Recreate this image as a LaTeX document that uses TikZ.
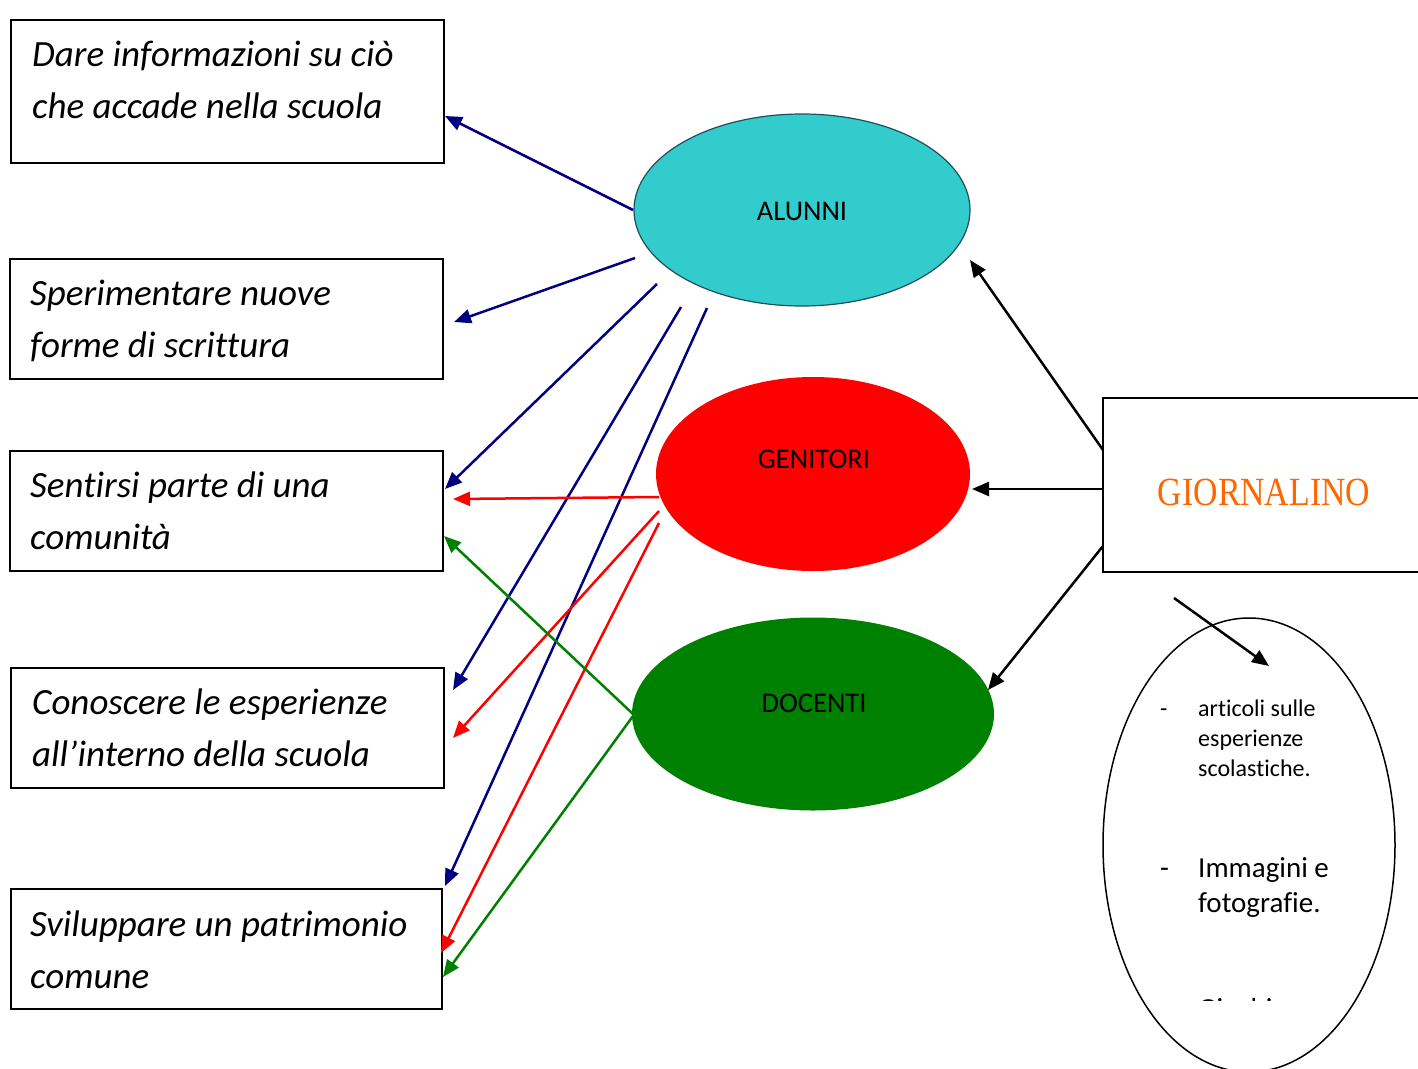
\documentclass[tikz,border=0pt]{standalone}
\usepackage{fontspec}
\setmainfont{Carlito}[Ligatures=NoCommon]
\newfontfamily\titlefont{Liberation Serif}
\usetikzlibrary{arrows.meta,shapes.geometric}
\definecolor{navyc}{HTML}{000080}
\definecolor{cyanc}{HTML}{33CCCC}
\definecolor{tealb}{HTML}{1F4E5F}
\definecolor{greenc}{HTML}{008000}
\definecolor{orangec}{HTML}{FF6600}
\tikzset{
  goalbox/.style={draw=black, line width=1.8pt, rectangle, anchor=north west, inner sep=0pt},
  goaltext/.style={anchor=base west, inner sep=0pt, font=\fontsize{37}{52}\selectfont\itshape},
  lbl/.style={font=\fontsize{28.5}{32}\selectfont},
  smalltext/.style={anchor=base west, inner sep=0pt, font=\fontsize{24}{30}\selectfont},
  midtext/.style={anchor=base west, inner sep=0pt, font=\fontsize{29}{35}\selectfont},
  conn/.style={line width=2.5pt, -{Triangle[length=17pt,width=14pt]}},
  blueconn/.style={conn, navyc},
  redconn/.style={conn, red},
  greenconn/.style={conn, greenc},
  blackconn/.style={conn, black},
}
\begin{document}
\begin{tikzpicture}[x=1pt,y=-1pt]
\useasboundingbox (0,0) rectangle (1418,1068);
\fill[white] (0,0) rectangle (1418,1068);

% goal boxes
\node[goalbox, minimum width=433pt, minimum height=143pt] (b1) at (10,19) {};
\node[goalbox, minimum width=433pt, minimum height=120pt] (b2) at (9,258) {};
\node[goalbox, minimum width=433pt, minimum height=120pt] (b3) at (9,450) {};
\node[goalbox, minimum width=433pt, minimum height=120pt] (b4) at (10,667) {};
\node[goalbox, minimum width=431pt, minimum height=120pt] (b5) at (10,888) {};

\node[goaltext] (t1a) at (32,66) {Dare informazioni su ciò};
\node[goaltext] (t1b) at (32,118) {che accade nella scuola};
\node[goaltext] (t2a) at (30,305) {Sperimentare nuove};
\node[goaltext] (t2b) at (30,357) {forme di scrittura};
\node[goaltext] (t3a) at (30,497) {Sentirsi parte di una};
\node[goaltext] (t3b) at (30,549) {comunità};
\node[goaltext] (t4a) at (32,714) {Conoscere le esperienze};
\node[goaltext] (t4b) at (32,766) {all’interno della scuola};
\node[goaltext] (t5a) at (30,936) {Sviluppare un patrimonio};
\node[goaltext] (t5b) at (30,988) {comune};

% ellipses
\node[ellipse, draw=tealb, line width=1.2pt, fill=cyanc, minimum width=336pt, minimum height=192pt, inner sep=0pt] (alunni) at (802,210) {};
\node[lbl] (alunniT) at (802,211) {ALUNNI};
\node[ellipse, fill=red, minimum width=314pt, minimum height=194pt, inner sep=0pt] (genitori) at (813,474) {};
\node[lbl] (genitoriT) at (814,459) {GENITORI};
\node[ellipse, fill=greenc, minimum width=362pt, minimum height=193pt, inner sep=0pt] (docenti) at (813,714) {};
\node[lbl] (docentiT) at (814,703) {DOCENTI};

% giornalino box
\draw[line width=1.8pt] (1420,398) -- (1103,398) -- (1103,572) -- (1420,572);
\node[minimum width=317pt, minimum height=174pt, inner sep=0pt] (giorn) at (1261.5,485) {};
\node[font=\titlefont\fontsize{40}{42}\selectfont, text=orangec, xscale=0.845] (giornT) at (1264,492) {GIORNALINO};

% oval with contents
\node[ellipse, draw=black, line width=1.5pt, minimum width=292pt, minimum height=454pt, inner sep=0pt] (oval) at (1249,845) {};
\node[smalltext] (d1) at (1160,716) {-};
\node[smalltext] (i1a) at (1198,716) {articoli sulle};
\node[smalltext] (i1b) at (1198,746) {esperienze};
\node[smalltext] (i1c) at (1198,776) {scolastiche.};
\node[midtext] (d2) at (1160,877) {-};
\node[midtext] (i2a) at (1198,877) {Immagini e};
\node[midtext] (i2b) at (1198,912) {fotografie.};
\begin{scope}
\clip (1150,980) rectangle (1300,1000.5);
\node[midtext] (i3) at (1198,1018) {Giochi e};
\end{scope}

% connector end points
\coordinate (a1s) at (633,210); \coordinate (a1e) at (445,116);
\coordinate (a2s) at (635,258); \coordinate (a2e) at (454,322);
\coordinate (a3s) at (657,284); \coordinate (a3e) at (445,489);
\coordinate (a4s) at (681,307); \coordinate (a4e) at (453,690);
\coordinate (a5s) at (707,308); \coordinate (a5e) at (445,886);
\coordinate (r1s) at (659,497); \coordinate (r1e) at (453,499);
\coordinate (r2s) at (659,511); \coordinate (r2e) at (453,738);
\coordinate (r3s) at (659,523); \coordinate (r3e) at (441,953);
\coordinate (g1s) at (633,714); \coordinate (g1e) at (444,536);
\coordinate (g2s) at (633,716); \coordinate (g2e) at (443,977);
\coordinate (k1s) at (1103,450); \coordinate (k1e) at (970,260);
\coordinate (k2s) at (1103,489); \coordinate (k2e) at (972,489);
\coordinate (k3s) at (1103,546); \coordinate (k3e) at (988,690);
\coordinate (k4s) at (1174,598); \coordinate (k4e) at (1269,666);

\draw[blueconn] (a1s) -- (a1e);
\draw[blueconn] (a2s) -- (a2e);
\draw[blueconn] (a3s) -- (a3e);
\draw[blueconn] (a4s) -- (a4e);
\draw[blueconn] (a5s) -- (a5e);
\draw[redconn] (r1s) -- (r1e);
\draw[redconn] (r2s) -- (r2e);
\draw[redconn] (r3s) -- (r3e);
\draw[greenconn] (g1s) -- (g1e);
\draw[greenconn] (g2s) -- (g2e);
\draw[blackconn] (k1s) -- (k1e);
\draw[blackconn] (k2s) -- (k2e);
\draw[blackconn] (k3s) -- (k3e);
\draw[blackconn] (k4s) -- (k4e);
\end{tikzpicture}
\end{document}
